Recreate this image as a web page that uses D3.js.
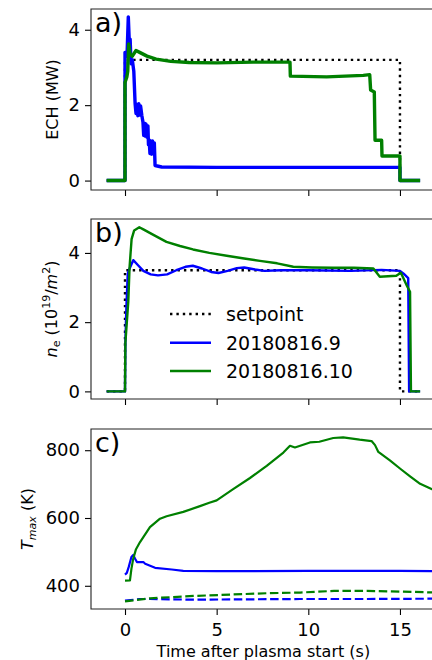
<!DOCTYPE html>
<html><head><meta charset="utf-8">
<script src="https://cdn.jsdelivr.net/npm/d3@7/dist/d3.min.js"></script>
<style>
body{margin:0;background:#fff}
svg{display:block}
text{font-family:"DejaVu Sans",sans-serif;fill:#000}
</style>
</head><body>
<svg id="chart" width="432" height="660"></svg>
<script>
// ---------- data ----------
const xTicks = [0, 5, 10, 15];
const yTicksA = [0, 2, 4];
const yTicksB = [0, 2, 4];
const yTicksC = [400, 600, 800];
const legendLabels = ["setpoint", "20180816.9", "20180816.10"];
const panelLabels = ["a)", "b)", "c)"];

// a) ECH power (MW)
const echSetpoint = [[-1,0],[0,0],[0,3.2],[15,3.2],[15,0],[16.1,0]];
const echShot9 = [[-1,0],[0,0],[0,3.4],[0.08,3.3],[0.12,3.45],[0.18,4.34],[0.24,3.6],[0.28,3.75],[0.33,3.1],[0.4,3.2],[0.48,2.9],
  [0.55,2.05],[0.6,1.78],[0.65,2.02],[0.7,1.72],[0.75,2.04],[0.8,1.74],[0.85,1.98],[0.92,1.72],[0.98,1.55],
  [1.02,1.2],[1.06,1.52],[1.1,1.18],[1.14,1.5],[1.2,1.15],[1.25,1.45],[1.28,0.95],[1.32,1.08],[1.36,0.72],[1.4,1.05],
  [1.45,0.7],[1.5,1.05],[1.56,0.72],[1.6,1.0],[1.64,0.4],[2,0.36],[5,0.35],[10,0.35],[15,0.35],[15,0],[16.1,0]];
const echShot10 = [[-1,0],[0,0],[0,2.6],[0.1,2.75],[0.15,2.9],[0.2,3.62],[0.28,3.35],[0.4,3.3],[0.6,3.45],[0.8,3.4],
  [1.2,3.3],[1.7,3.22],[2.5,3.16],[3.5,3.13],[5,3.12],[7,3.14],[9.0,3.14],[9.02,2.77],[11,2.75],[13.0,2.79],[13.35,2.81],
  [13.4,2.4],[13.6,2.35],[13.64,1.07],[14.0,1.07],[14.02,0.65],[15,0.65],[15,0],[16.1,0]];

// b) line density (1e19 m^-2)
const neSetpoint = [[-1,0],[0,0],[0,3.5],[15,3.5],[15,0],[16.1,0]];
const neShot9 = [[-1,0],[0,0],[0.02,1.4],[0.08,2.5],[0.15,3.4],[0.25,3.55],[0.45,3.79],[0.7,3.65],[1.0,3.48],[1.4,3.38],
  [1.8,3.35],[2.3,3.38],[2.8,3.5],[3.3,3.6],[3.7,3.63],[4.2,3.55],[4.7,3.45],[5.1,3.42],[5.6,3.48],[6.1,3.56],[6.5,3.58],
  [7.1,3.52],[7.6,3.48],[8.5,3.5],[10,3.5],[12.3,3.48],[14,3.51],[15.0,3.48],[15.2,3.4],[15.45,3.27],[15.5,0],[16.1,0]];
const neShot10 = [[-1,0],[0,0],[0.02,1.4],[0.1,2.0],[0.18,2.6],[0.25,3.6],[0.36,4.4],[0.5,4.65],[0.78,4.74],[1.0,4.68],
  [1.55,4.52],[2.26,4.32],[3.0,4.2],[3.71,4.1],[4.6,4.0],[5.55,3.92],[6.5,3.84],[7.36,3.77],[8.3,3.7],[9.18,3.6],
  [10.2,3.58],[11.36,3.57],[12.5,3.57],[13.55,3.55],[13.9,3.31],[14.8,3.34],[15.05,3.43],[15.36,3.07],[15.55,2.88],
  [15.6,0],[16.1,0]];

// c) maximum temperature (K), solid = Tmax, dashed = second sensor
const tShot9 = [[0,433],[0.1,438],[0.2,455],[0.35,485],[0.45,491],[0.55,480],[0.65,470],[1.0,470],[1.1,465],[1.64,453],
  [2.55,448],[3.18,444],[5,443],[10,444],[15,444],[17,443]];
const tShot10 = [[0,415],[0.27,416],[0.35,450],[0.45,480],[0.6,508],[0.82,529],[1.36,573],[1.91,598],[2.27,605],
  [3.18,618],[4.09,635],[4.6,645],[5.0,652],[5.9,685],[6.82,718],[7.73,754],[8.64,793],[9.0,813],[9.27,808],
  [10.09,823],[10.6,825],[11.36,836],[11.9,838],[12.8,831],[13.45,827],[13.64,815],[13.82,795],[14.45,770],
  [15.0,746],[15.55,723],[16.1,701],[16.75,685],[17,680]];
const tShot9Dashed = [[0,356],[0.8,361],[1.36,361],[3.74,359],[9.55,361],[13.2,361],[17,362]];
const tShot10Dashed = [[0,354],[1.36,363],[3.74,370],[7.73,378],[9.55,380],[11.4,385],[13.2,385],[15,383],[17,380]];

// ---------- layout ----------
const svg = d3.select("#chart");
const left = 91, right = 435.8;
const x = d3.scaleLinear().domain([-1.855, 16.955]).range([left, right]);
const blue = "#0000ff", green = "#008000";
const lw = 2.4;

const panels = [
  {top: 9,   bottom: 190, domain: [-0.25, 4.55], ticks: yTicksA, tw: 3.4,
   series: [
     {d: echSetpoint, c: "#000", dash: "2.4,4"},
     {d: echShot9, c: blue},
     {d: echShot10, c: green}]},
  {top: 219, bottom: 399, domain: [-0.22, 4.98], ticks: yTicksB, tw: lw,
   series: [
     {d: neSetpoint, c: "#000", dash: "2.4,4"},
     {d: neShot9, c: blue},
     {d: neShot10, c: green}]},
  {top: 429, bottom: 609, domain: [331.5, 862.6], ticks: yTicksC, tw: 2.2,
   series: [
     {d: tShot9, c: blue},
     {d: tShot10, c: green},
     {d: tShot9Dashed, c: blue, dash: "8.5,3.6"},
     {d: tShot10Dashed, c: green, dash: "8.5,3.6"}]}
];

panels.forEach((p, i) => {
  const y = d3.scaleLinear().domain(p.domain).range([p.bottom, p.top]);
  const g = svg.append("g");
  const cid = "clip" + i;
  svg.append("clipPath").attr("id", cid).append("rect")
    .attr("x", left).attr("y", p.top).attr("width", right - left).attr("height", p.bottom - p.top);
  const line = d3.line().x(d => x(d[0])).y(d => y(d[1]));
  const lg = g.append("g").attr("clip-path", `url(#${cid})`);
  p.series.forEach(s => {
    lg.append("path").attr("d", line(s.d)).attr("fill", "none")
      .attr("stroke", s.c).attr("stroke-width", s.dash && s.c === "#000" ? lw : p.tw)
      .attr("stroke-dasharray", s.dash || null)
      .attr("stroke-linejoin", "round");
  });
  // axes
  const ya = g.append("g").attr("transform", `translate(${left},0)`)
    .call(d3.axisLeft(y).tickValues(p.ticks).tickSize(6).tickPadding(5).tickFormat(d3.format("d")));
  const xa = g.append("g").attr("transform", `translate(0,${p.bottom})`)
    .call(d3.axisBottom(x).tickValues(xTicks).tickSize(6).tickPadding(8));
  [ya, xa].forEach(a => {
    a.select(".domain").remove();
    a.selectAll("line").attr("stroke", "#000").attr("stroke-width", 1.1);
    a.selectAll("text").attr("font-size", 18).attr("font-family", "DejaVu Sans").attr("fill", "#000");
  });
  if (i < 2) xa.selectAll("text").remove();
  // spines (left, top, bottom)
  g.append("path")
    .attr("d", `M${right},${p.top}H${left}V${p.bottom}H${right}`)
    .attr("fill", "none").attr("stroke", "#222").attr("stroke-width", 1.1);
  // panel letter
  g.append("text").attr("x", 95).attr("y", p.top + 23).attr("font-size", 27).text(panelLabels[i]);
});

// y labels
function ylab(xpos, ycen) {
  return svg.append("text").attr("transform", `translate(${xpos},${ycen}) rotate(-90)`)
    .attr("text-anchor", "middle").attr("font-size", 16);
}
ylab(58, 99.5).text("ECH (MW)");
const lb = ylab(57, 309);
lb.append("tspan").attr("font-style", "italic").text("n");
lb.append("tspan").attr("font-size", 11).attr("dy", 3).text("e");
lb.append("tspan").attr("dy", -3).text(" (10");
lb.append("tspan").attr("font-size", 11).attr("dy", -7).text("19");
lb.append("tspan").attr("dy", 7).text("/");
lb.append("tspan").attr("font-style", "italic").text("m");
lb.append("tspan").attr("font-size", 11).attr("dy", -7).text("2");
lb.append("tspan").attr("dy", 7).text(")");
const lc = ylab(33, 519);
lc.append("tspan").attr("font-style", "italic").text("T");
lc.append("tspan").attr("font-style", "italic").attr("font-size", 11).attr("dy", 3).text("max");
lc.append("tspan").attr("dy", -3).text(" (K)");

// x label
svg.append("text").attr("x", (left + right) / 2).attr("y", 657).attr("text-anchor", "middle")
  .attr("font-size", 16).text("Time after plasma start (s)");

// legend in panel b
const legStyles = [{c: "#000", dash: "2.4,4"}, {c: blue}, {c: green}];
const legY = [314, 342.7, 371];
legendLabels.forEach((t, k) => {
  svg.append("line").attr("x1", 170).attr("x2", 211).attr("y1", legY[k]).attr("y2", legY[k])
    .attr("stroke", legStyles[k].c).attr("stroke-width", lw).attr("stroke-dasharray", legStyles[k].dash || null);
  svg.append("text").attr("x", 226).attr("y", legY[k]).attr("dy", "0.36em").attr("font-size", 19).text(t);
});
</script>
</body></html>
